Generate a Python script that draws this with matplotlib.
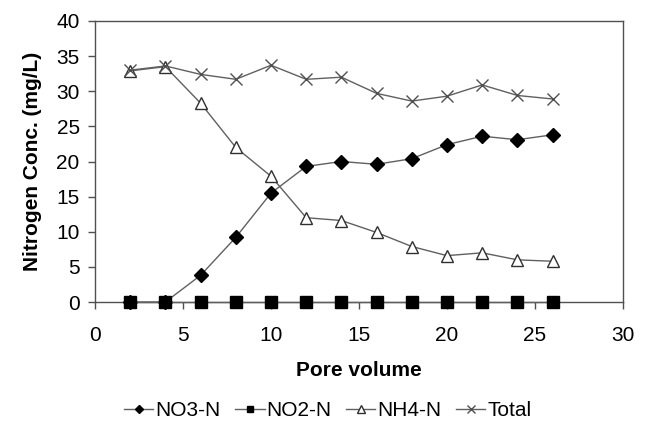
import numpy as np
import matplotlib
matplotlib.use("Agg")
import matplotlib.pyplot as plt

plt.rcParams['font.family'] = ['Liberation Sans', 'DejaVu Sans']

# === Data ===
pore_volume = [2, 4, 6, 8, 10, 12, 14, 16, 18, 20, 22, 24, 26]
no3_n = [0, 0, 3.8, 9.2, 15.5, 19.3, 20.0, 19.6, 20.4, 22.4, 23.6, 23.1, 23.8]
no2_n = [0, 0, 0, 0, 0, 0, 0, 0, 0, 0, 0, 0, 0]
nh4_n = [32.9, 33.5, 28.3, 22.0, 17.9, 12.0, 11.6, 9.9, 7.9, 6.6, 7.0, 6.0, 5.8]
total = [33.0, 33.6, 32.4, 31.7, 33.7, 31.7, 32.0, 29.7, 28.6, 29.3, 30.9, 29.4, 28.9]

x_ticks = [0, 5, 10, 15, 20, 25, 30]
y_ticks = [0, 5, 10, 15, 20, 25, 30, 35, 40]

# === Plotting ===
fig = plt.figure(figsize=(6.52, 4.38), dpi=100)
ax = fig.add_axes([95/652, 1 - 302/438, 528/652, 281/438])

line_col = '#606060'
ax.plot(pore_volume, no3_n, color=line_col, lw=1, marker='D', ms=7,
        mfc='black', mec='black', label='NO3-N', zorder=3, clip_on=False)
ax.plot(pore_volume, no2_n, color=line_col, lw=1, marker='s', ms=8,
        mfc='black', mec='black', label='NO2-N', zorder=4, clip_on=False)
ax.plot(pore_volume, nh4_n, color=line_col, lw=1, marker='^', ms=9,
        mfc='white', mec='#303030', mew=1, label='NH4-N', zorder=3)
ax.plot(pore_volume, total, color=line_col, lw=1, marker='x', ms=9,
        mec='#505050', mew=1, label='Total', zorder=3)

ax.set_xlim(0, 30)
ax.set_ylim(0, 40)
ax.set_xticks(x_ticks)
ax.set_yticks(y_ticks)

for s in ax.spines.values():
    s.set_color('#505050')
    s.set_linewidth(1)
ax.tick_params(direction='out', length=5, width=1, color='#505050',
               labelsize=15, colors='#505050', labelcolor='black')
ax.tick_params(axis='x', pad=12)
ax.tick_params(axis='y', pad=6)

ax.set_xlabel('Pore volume', fontsize=15, fontweight='bold', labelpad=12)
ax.set_ylabel('Nitrogen Conc. (mg/L)', fontsize=15, fontweight='bold', labelpad=10)

fig.legend(loc='center', bbox_to_anchor=(0.503, 1 - 411/438), ncol=4,
           frameon=False, fontsize=15, handlelength=1.4, handletextpad=0.1,
           columnspacing=0.7, markerscale=0.6)

fig.savefig('out.png', dpi=100)
